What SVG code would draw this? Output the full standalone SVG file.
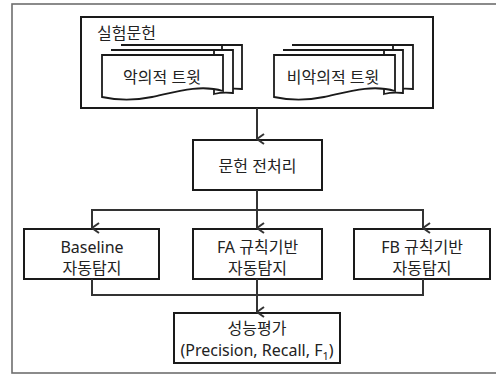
<svg xmlns="http://www.w3.org/2000/svg" width="496" height="374" viewBox="0 0 496 374">
<defs>
<style>
.box{fill:#fff;stroke:#1a1a1a;stroke-width:2}
.doc{fill:#fff;stroke:#1a1a1a;stroke-width:1.8;stroke-linejoin:miter}
.ln{fill:none;stroke:#333;stroke-width:2}
text{font-family:"Noto Sans","Noto Sans CJK KR",sans-serif;font-size:16px;fill:#222}
.c{text-anchor:middle}
</style>
<marker id="ah" viewBox="0 0 12 10" refX="6" refY="9" markerWidth="12" markerHeight="10" markerUnits="userSpaceOnUse" orient="auto-start-reverse">
<path d="M1,2 L6,9 L11,2" fill="none" stroke="#333" stroke-width="2"/>
</marker>
</defs>
<rect x="12" y="4" width="500" height="369" fill="#fff" stroke="#6e6e6e" stroke-width="1.6"/>

<g id="group-silheom">
<rect class="box" x="81" y="17" width="352" height="91"/>
<text x="97" y="39">실험문헌</text>
</g>

<g id="doc-malicious">
<path class="doc" d="M121,45 H242 V89 C232,88 226,89 222,90 V45 Z"/>
<path class="doc" d="M111,50 H233 V93 C225,92 218,93 214,94 V50 Z"/>
<path class="doc" d="M102,55 H223 V91 C200,84 175,92 152,97 C132,101 116,100 102,97 Z"/>
<text class="c" x="162" y="83">악의적 트윗</text>
</g>

<g id="doc-benign">
<path class="doc" d="M292,45 H413 V89 C403,88 397,89 393,90 V45 Z"/>
<path class="doc" d="M283,50 H403 V93 C395,92 388,93 384,94 V50 Z"/>
<path class="doc" d="M274,55 H395 V91 C372,84 347,92 324,97 C304,101 288,100 274,97 Z"/>
<text class="c" x="333" y="83">비악의적 트윗</text>
</g>

<g id="preprocess">
<rect class="box" x="193" y="140" width="129" height="50"/>
<text class="c" x="257.5" y="172">문헌 전처리</text>
</g>

<g id="baseline">
<rect class="box" x="24" y="229" width="135" height="50"/>
<text class="c" x="92" y="253">Baseline</text>
<text class="c" x="92" y="274">자동탐지</text>
</g>

<g id="fa">
<rect class="box" x="193" y="229" width="129" height="50"/>
<text class="c" x="257.5" y="253">FA 규칙기반</text>
<text class="c" x="257.5" y="274">자동탐지</text>
</g>

<g id="fb">
<rect class="box" x="354" y="229" width="136" height="50"/>
<text class="c" x="422" y="253">FB 규칙기반</text>
<text class="c" x="422" y="274">자동탐지</text>
</g>

<g id="eval">
<rect class="box" x="174" y="313" width="166" height="50"/>
<text class="c" x="257" y="334">성능평가</text>
<text class="c" x="257" y="356">(Precision, Recall, F<tspan font-size="11" dy="4">1</tspan><tspan dy="-4">)</tspan></text>
</g>

<g id="connectors">
<path class="ln" d="M257,108 V139" marker-end="url(#ah)"/>
<path class="ln" d="M257,190 V228" marker-end="url(#ah)"/>
<path class="ln" d="M92,228 V210 H423 V228" marker-start="url(#ah)" marker-end="url(#ah)"/>
<path class="ln" d="M92,279 V295 H423 V279"/>
<path class="ln" d="M257,279 V312" marker-end="url(#ah)"/>
</g>
</svg>
